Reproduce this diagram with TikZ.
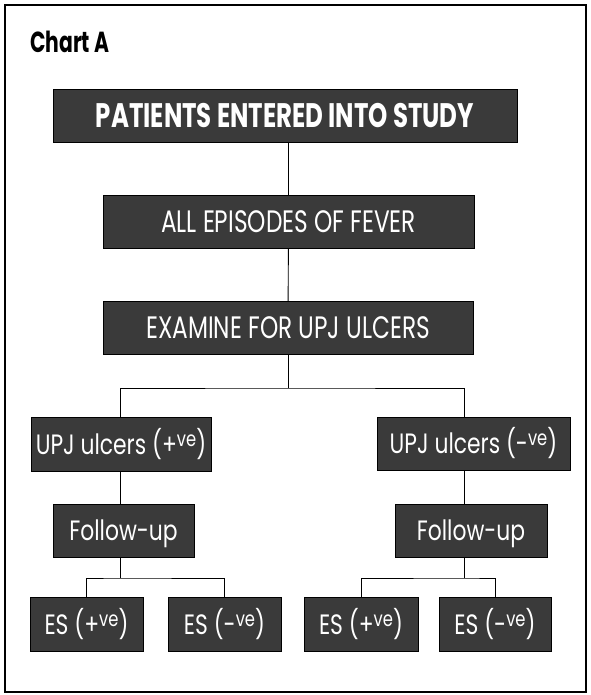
\documentclass[tikz,border=0pt]{standalone}
\usepackage{fontspec}
\setmainfont[FakeStretch=0.78]{Poppins}
\newfontfamily\capsfont[FakeStretch=0.75]{Poppins}
\newfontfamily\headfont[FakeStretch=0.72]{Poppins}
\newfontfamily\titlefont[FakeStretch=0.70]{Poppins}
\usetikzlibrary{positioning, calc}
\definecolor{boxgray}{RGB}{58,58,58}
\tikzstyle{chartbox} = [rectangle, draw=black, fill=boxgray, text=white, inner sep=0pt, align=center, minimum height=53pt, font=\fontsize{28}{30}\selectfont, text height=20pt, text depth=0pt]
\tikzstyle{capsbox} = [chartbox, font=\capsfont\fontsize{31}{33}\selectfont, text height=21.5pt]
\tikzstyle{headbox} = [chartbox, font=\headfont\bfseries\fontsize{34}{36}\selectfont, text height=23.5pt]
\tikzstyle{link} = [line width=0.9pt]
\newcommand{\ve}{\raisebox{8pt}{\fontsize{21}{21}\selectfont ve}}

\begin{document}
\begin{tikzpicture}[x=1pt, y=-1pt]

% frame and title
\useasboundingbox (0,0) rectangle (590,695);
\draw [line width=1.2pt] (5,5) rectangle (586,692);
\node (title) [anchor=base west, inner sep=0pt, font=\titlefont\bfseries\fontsize{29}{30}\selectfont] at (30,53) {Chart A};

% main column
\node (patients) [headbox, minimum width=464pt] at (285,115.5) {PATIENTS ENTERED INTO STUDY};
\node (fever) [capsbox, minimum width=371pt] at (288.5,221.5) {ALL EPISODES OF FEVER};
\node (examine) [capsbox, minimum width=370pt] at (288,327.5) {EXAMINE FOR UPJ ULCERS};

% positive branch
\node (upj_pos) [chartbox, minimum width=180pt, minimum height=54pt] at (121,444) {UPJ ulcers (+\ve)};
\node (follow_pos) [chartbox, minimum width=141pt] at (123.5,530.5) {Follow-up};
\node (es_pp) [chartbox, minimum width=113pt, minimum height=54pt] at (86.5,624) {ES (+\ve)};
\node (es_pn) [chartbox, minimum width=113pt, minimum height=54pt] at (224.5,624) {ES (-\ve)};

% negative branch
\node (upj_neg) [chartbox, minimum width=193pt] at (473.5,443.5) {UPJ ulcers (-\ve)};
\node (follow_neg) [chartbox, minimum width=152pt] at (471,530.5) {Follow-up};
\node (es_np) [chartbox, minimum width=114pt, minimum height=54pt] at (361,624) {ES (+\ve)};
\node (es_nn) [chartbox, minimum width=112pt, minimum height=54pt] at (495,624) {ES (-\ve)};

% branch points
\coordinate (posx) at (120,0);
\coordinate (negx) at (464,0);
\coordinate (split) at (288,388);
\coordinate (pos_split) at (120,578);
\coordinate (neg_split) at (464,578);

% connectors
\draw [link] (fever.north |- patients.south) -- (fever.north);
\draw [link] (fever) -- (examine);
\draw [link] (examine) -- (split);
\draw [link] (upj_pos.north -| posx) |- (split) -| (upj_neg.north -| negx);
\draw [link] (upj_pos.south -| posx) -- (follow_pos.north -| posx);
\draw [link] (upj_neg.south -| negx) -- (follow_neg.north -| negx);
\draw [link] (follow_pos.south -| posx) -- (pos_split);
\draw [link] (follow_neg.south -| negx) -- (neg_split);
\draw [link] (es_pp.north) |- (pos_split) -| (es_pn.north);
\draw [link] (es_np.north) |- (neg_split) -| (es_nn.north);

\end{tikzpicture}
\end{document}
